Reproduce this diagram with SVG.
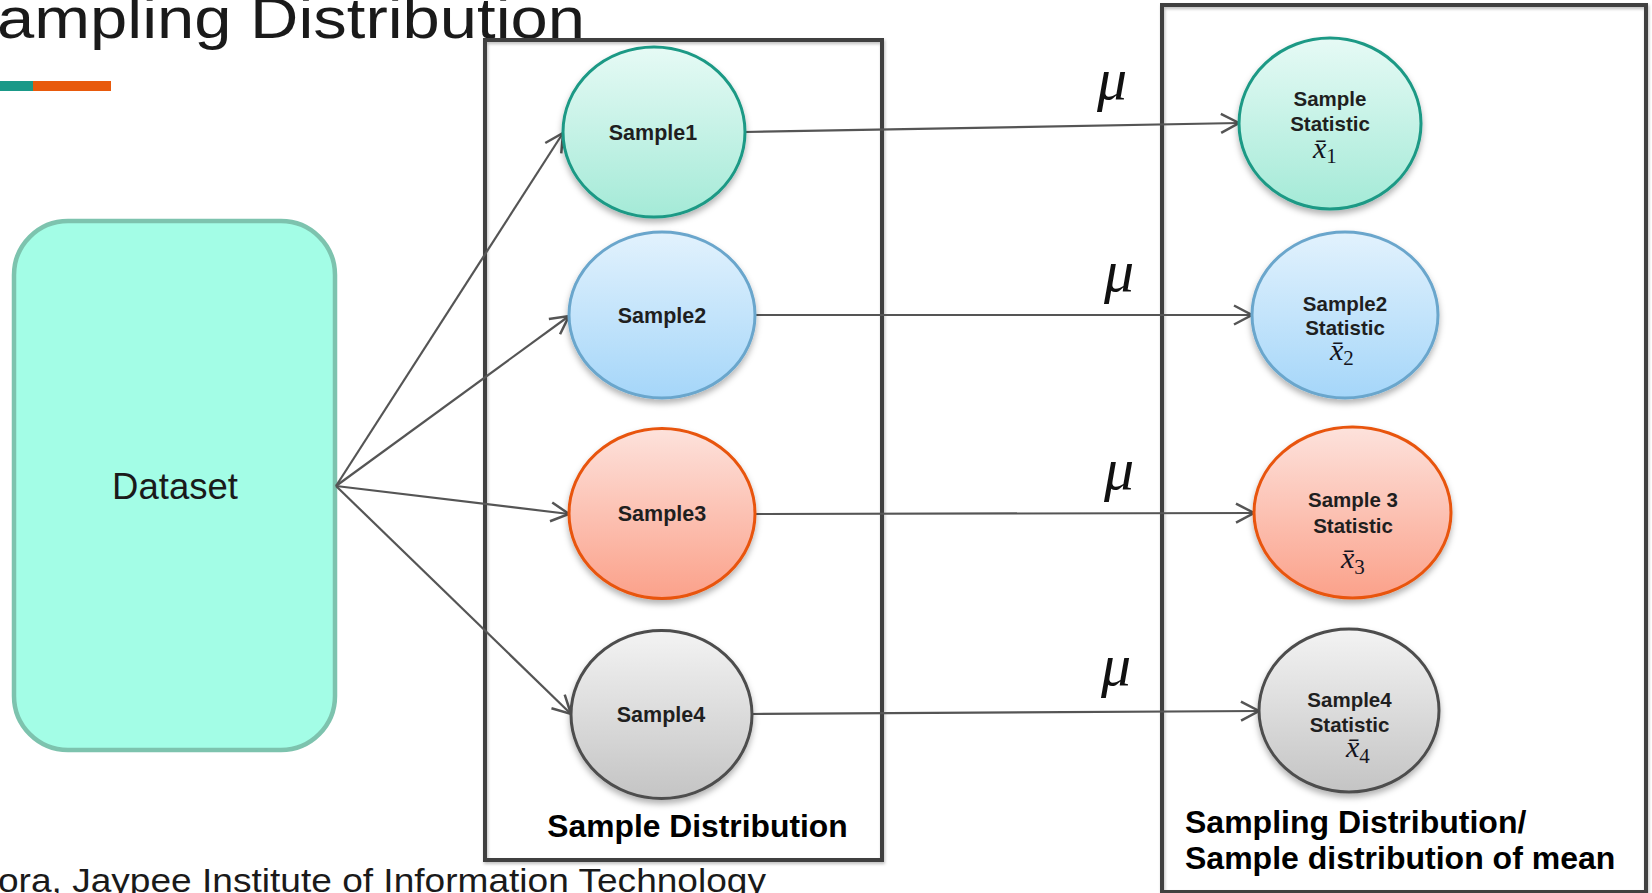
<svg xmlns="http://www.w3.org/2000/svg" width="1652" height="893" viewBox="0 0 1652 893">
<style>
.lbl{font-family:"Liberation Sans",Arial,sans-serif;font-weight:bold;fill:#1f1f1f;text-anchor:middle}
.sl{font-size:21.5px}
.st{font-size:20.5px}
.xb{font-family:"Liberation Serif","Times New Roman",serif;fill:#141420}
.mu{font-family:"Liberation Serif","Times New Roman",serif;font-style:italic;font-size:60px;fill:#111}
.box{fill:none;stroke:#404040;stroke-width:4}
.conn{stroke:#555;stroke-width:2.2;fill:none;marker-end:url(#arr)}
.cap{font-family:"Liberation Sans",Arial,sans-serif;font-weight:bold;fill:#000}
</style>
<defs>
<marker id="arr" markerUnits="userSpaceOnUse" markerWidth="26" markerHeight="26" viewBox="0 0 26 26" refX="21" refY="13" orient="auto">
<path d="M3,3.5 L21,13 L3,22.5" fill="none" stroke="#555" stroke-width="2.5"/>
</marker>
<linearGradient id="g1" x1="0" y1="0" x2="0" y2="1"><stop offset="0" stop-color="#e6faf5"/><stop offset="1" stop-color="#a4ead7"/></linearGradient>
<linearGradient id="g2" x1="0" y1="0" x2="0" y2="1"><stop offset="0" stop-color="#e2f2fd"/><stop offset="1" stop-color="#a5d6f9"/></linearGradient>
<linearGradient id="g3" x1="0" y1="0" x2="0" y2="1"><stop offset="0" stop-color="#fde2dc"/><stop offset="1" stop-color="#fba18a"/></linearGradient>
<linearGradient id="g4" x1="0" y1="0" x2="0" y2="1"><stop offset="0" stop-color="#f3f3f3"/><stop offset="1" stop-color="#c4c4c4"/></linearGradient>
<filter id="sh" x="-20%" y="-20%" width="140%" height="150%"><feDropShadow dx="0" dy="4" stdDeviation="3" flood-color="#000" flood-opacity="0.3"/></filter>
<filter id="bsh" x="-5%" y="-5%" width="110%" height="110%"><feDropShadow dx="1" dy="2" stdDeviation="1.5" flood-color="#000" flood-opacity="0.25"/></filter>
</defs>
<rect width="1652" height="893" fill="#fff"/>

<g id="title">
<text x="-3" y="38" font-family="Liberation Sans, Arial, sans-serif" font-size="58" fill="#1a1a1a" textLength="588" lengthAdjust="spacingAndGlyphs">ampling Distribution</text>
<rect x="0" y="81" width="33" height="10" fill="#1a9988"/>
<rect x="33" y="81" width="78" height="10" fill="#e85a0c"/>
</g>

<g id="footer">
<text x="-2" y="892" font-family="Liberation Sans, Arial, sans-serif" font-size="33" fill="#1a1a1a" textLength="768" lengthAdjust="spacingAndGlyphs">ora, Jaypee Institute of Information Technology</text>
</g>

<g id="sample-distribution-box">
<rect class="box" x="485" y="40" width="397" height="820" filter="url(#bsh)"/>
<text class="cap" x="697.5" y="837" font-size="31.8" text-anchor="middle">Sample Distribution</text>
</g>

<g id="sampling-distribution-box">
<rect class="box" x="1162" y="5" width="484" height="887" filter="url(#bsh)"/>
<text class="cap" x="1185" y="833" font-size="32">Sampling Distribution/</text>
<text class="cap" x="1185" y="869" font-size="32">Sample distribution of mean</text>
</g>

<g id="dataset">
<rect x="14" y="221" width="321" height="529" rx="54" ry="54" fill="#a3fde6" stroke="#7dc3ae" stroke-width="4.5"/>
<text x="175" y="499" font-family="Liberation Sans, Arial, sans-serif" font-size="36.5" fill="#1a1a1a" text-anchor="middle">Dataset</text>
</g>

<g id="connectors">
<line class="conn" x1="336" y1="486" x2="563" y2="133"/>
<line class="conn" x1="336" y1="486" x2="569" y2="316"/>
<line class="conn" x1="336" y1="486" x2="569" y2="514"/>
<line class="conn" x1="336" y1="486" x2="571" y2="714"/>
<line class="conn" x1="745" y1="132" x2="1239" y2="123"/>
<line class="conn" x1="755" y1="315" x2="1252" y2="315"/>
<line class="conn" x1="755" y1="514" x2="1254" y2="513"/>
<line class="conn" x1="752" y1="714" x2="1259" y2="711"/>
<text class="mu" x="1097" y="99">μ</text>
<text class="mu" x="1104" y="291">μ</text>
<text class="mu" x="1104" y="489">μ</text>
<text class="mu" x="1101" y="685">μ</text>
</g>

<g id="sample1">
<ellipse cx="654" cy="132" rx="91" ry="85" fill="url(#g1)" stroke="#1b9985" stroke-width="3" filter="url(#sh)"/>
<text class="lbl sl" x="653" y="140">Sample1</text>
</g>
<g id="sample2">
<ellipse cx="662" cy="315" rx="93" ry="83" fill="url(#g2)" stroke="#6aa6cc" stroke-width="3" filter="url(#sh)"/>
<text class="lbl sl" x="662" y="322.5">Sample2</text>
</g>
<g id="sample3">
<ellipse cx="662" cy="513.5" rx="93" ry="85" fill="url(#g3)" stroke="#e8540f" stroke-width="3" filter="url(#sh)"/>
<text class="lbl sl" x="662" y="521">Sample3</text>
</g>
<g id="sample4">
<ellipse cx="661.5" cy="714.5" rx="90.5" ry="84" fill="url(#g4)" stroke="#4d4d4d" stroke-width="3" filter="url(#sh)"/>
<text class="lbl sl" x="661" y="722">Sample4</text>
</g>

<g id="stat1">
<ellipse cx="1330" cy="123.5" rx="91" ry="85.5" fill="url(#g1)" stroke="#1b9985" stroke-width="3" filter="url(#sh)"/>
<text class="lbl st" x="1330" y="106">Sample</text>
<text class="lbl st" x="1330" y="131">Statistic</text>
<text class="xb" x="1313" y="158"><tspan font-style="italic" font-size="30">x̄</tspan><tspan font-size="21" dy="5">1</tspan></text>
</g>
<g id="stat2">
<ellipse cx="1345" cy="315" rx="93" ry="83" fill="url(#g2)" stroke="#6aa6cc" stroke-width="3" filter="url(#sh)"/>
<text class="lbl st" x="1345" y="311">Sample2</text>
<text class="lbl st" x="1345" y="335">Statistic</text>
<text class="xb" x="1330" y="360"><tspan font-style="italic" font-size="30">x̄</tspan><tspan font-size="21" dy="5">2</tspan></text>
</g>
<g id="stat3">
<ellipse cx="1352.5" cy="512.5" rx="98.5" ry="85.5" fill="url(#g3)" stroke="#e8540f" stroke-width="3" filter="url(#sh)"/>
<text class="lbl st" x="1353" y="507">Sample 3</text>
<text class="lbl st" x="1353" y="533">Statistic</text>
<text class="xb" x="1341" y="568"><tspan font-style="italic" font-size="30">x̄</tspan><tspan font-size="21" dy="6">3</tspan></text>
</g>
<g id="stat4">
<ellipse cx="1349" cy="710.5" rx="90" ry="81.5" fill="url(#g4)" stroke="#4d4d4d" stroke-width="3" filter="url(#sh)"/>
<text class="lbl st" x="1349.5" y="707">Sample4</text>
<text class="lbl st" x="1349.5" y="732">Statistic</text>
<text class="xb" x="1346" y="757"><tspan font-style="italic" font-size="30">x̄</tspan><tspan font-size="21" dy="6">4</tspan></text>
</g>
</svg>
